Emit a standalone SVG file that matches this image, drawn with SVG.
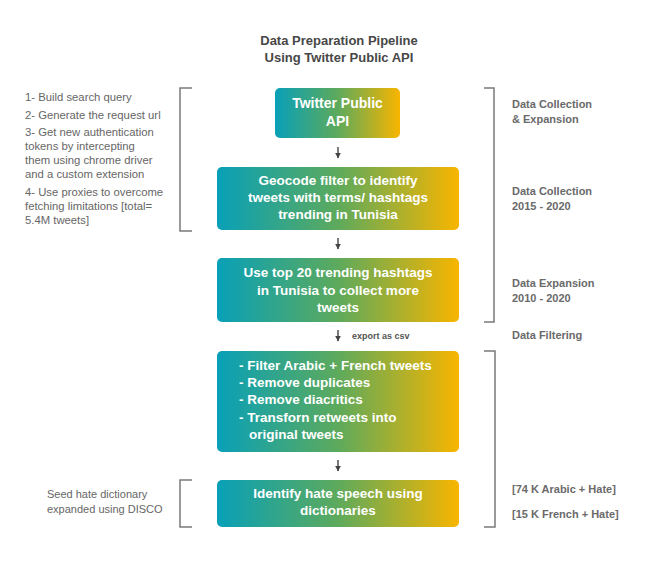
<svg xmlns="http://www.w3.org/2000/svg" width="656" height="569" viewBox="0 0 656 569">
<style>
.title{font-family:"Liberation Sans",Arial,sans-serif;font-weight:bold;font-size:13px;fill:#474747;text-anchor:middle}
.box{fill:url(#grad)}
.bt{font-family:"Liberation Sans",Arial,sans-serif;font-weight:bold;font-size:13.5px;fill:#ffffff;text-anchor:middle}
.bl{font-family:"Liberation Sans",Arial,sans-serif;font-weight:bold;font-size:13.5px;fill:#ffffff}
.side{font-family:"Liberation Sans",Arial,sans-serif;font-size:11.3px;fill:#666666}
.lab{font-family:"Liberation Sans",Arial,sans-serif;font-weight:bold;font-size:11px;fill:#6a6a6a}
.brk{fill:none;stroke:#7a7a7a;stroke-width:1.5}
.arr{stroke:#444;stroke-width:1.4;fill:none;marker-end:url(#ah)}
.small{font-family:"Liberation Sans",Arial,sans-serif;font-weight:bold;font-size:9px;fill:#555}
</style>
<defs>
<linearGradient id="grad" x1="0" y1="0" x2="1" y2="0">
<stop offset="0" stop-color="#08a0b8"/>
<stop offset="0.5" stop-color="#5daa5c"/>
<stop offset="1" stop-color="#f8b500"/>
</linearGradient>
<marker id="ah" viewBox="0 0 10 10" refX="9" refY="5" markerWidth="6" markerHeight="6" orient="auto" markerUnits="userSpaceOnUse">
<path d="M0,0 L10,5 L0,10 z" fill="#444"/>
</marker>
</defs>
<rect width="656" height="569" fill="#ffffff"/>
<g id="title">
<text class="title" x="339" y="45">Data Preparation Pipeline</text>
<text class="title" x="339" y="62">Using Twitter Public API</text>
</g>
<g id="connectors">
<line class="arr" x1="338" y1="147" x2="338" y2="158"/>
<line class="arr" x1="338" y1="238" x2="338" y2="249"/>
<line class="arr" x1="338" y1="330" x2="338" y2="341"/>
<line class="arr" x1="338" y1="460" x2="338" y2="471"/>
<text class="small" x="352" y="339">export as csv</text>
</g>
<g id="n1">
<rect class="box" x="275" y="88" width="125" height="50" rx="5"/>
<text class="bt" x="337.5" y="108" style="font-size:14px">Twitter Public</text>
<text class="bt" x="337.5" y="126" style="font-size:14px">API</text>
</g>
<g id="n2">
<rect class="box" x="217" y="167" width="242" height="63" rx="5"/>
<text class="bt" x="338" y="185">Geocode filter to identify</text>
<text class="bt" x="338" y="202">tweets with terms/ hashtags</text>
<text class="bt" x="338" y="219">trending in Tunisia</text>
</g>
<g id="n3">
<rect class="box" x="217" y="258" width="242" height="64" rx="5"/>
<text class="bt" x="338" y="277">Use top 20 trending hashtags</text>
<text class="bt" x="338" y="295">in Tunisia to collect more</text>
<text class="bt" x="338" y="312">tweets</text>
</g>
<g id="n4">
<rect class="box" x="217" y="351" width="242" height="101" rx="5"/>
<text class="bl" x="239" y="370">- Filter Arabic + French tweets</text>
<text class="bl" x="239" y="387">- Remove duplicates</text>
<text class="bl" x="239" y="404">- Remove diacritics</text>
<text class="bl" x="239" y="422">- Transforn retweets into</text>
<text class="bl" x="249" y="439">original tweets</text>
</g>
<g id="n5">
<rect class="box" x="217" y="480" width="242" height="47" rx="5"/>
<text class="bt" x="338" y="498">Identify hate speech using</text>
<text class="bt" x="338" y="515">dictionaries</text>
</g>
<g id="left-notes">
<path class="brk" d="M192,88 H180 V231 H192"/>
<text class="side" x="25" y="101">1- Build search query</text>
<text class="side" x="25" y="119">2- Generate the request url</text>
<text class="side" x="25" y="136">3- Get new authentication</text>
<text class="side" x="25" y="150">tokens by intercepting</text>
<text class="side" x="25" y="164">them using chrome driver</text>
<text class="side" x="25" y="178">and a custom extension</text>
<text class="side" x="25" y="196">4- Use proxies to overcome</text>
<text class="side" x="25" y="210">fetching limitations [total=</text>
<text class="side" x="25" y="224">5.4M tweets]</text>
<path class="brk" d="M192,480 H180 V527 H192"/>
<text class="side" x="47" y="498" style="font-size:11px">Seed hate dictionary</text>
<text class="side" x="47" y="513" style="font-size:11px">expanded using DISCO</text>
</g>
<g id="right-notes">
<path class="brk" d="M484,88 H494 V322 H484"/>
<text class="lab" x="512" y="108">Data Collection</text>
<text class="lab" x="512" y="123">&amp; Expansion</text>
<text class="lab" x="512" y="195">Data Collection</text>
<text class="lab" x="512" y="210">2015 - 2020</text>
<text class="lab" x="512" y="287">Data Expansion</text>
<text class="lab" x="512" y="302">2010 - 2020</text>
<text class="lab" x="512" y="339">Data Filtering</text>
<path class="brk" d="M484,351 H495 V527 H484"/>
<text class="lab" x="512" y="493">[74 K Arabic + Hate]</text>
<text class="lab" x="512" y="518">[15 K French + Hate]</text>
</g>
</svg>
